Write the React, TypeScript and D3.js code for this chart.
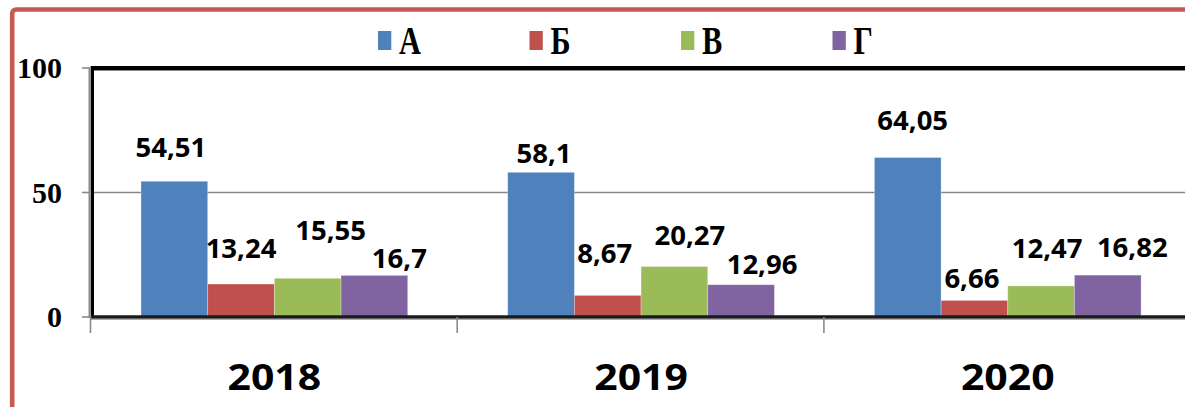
import React from "react";
import * as d3 from "d3";

const years = ["2018", "2019", "2020"];
const series = ["А", "Б", "В", "Г"];
const colors = ["#4F81BD", "#C0504D", "#9BBB59", "#8064A2"];
const valuesA = [54.51, 58.1, 64.05];
const valuesB = [13.24, 8.67, 6.66];
const valuesC = [15.55, 20.27, 12.47];
const valuesD = [16.7, 12.96, 16.82];
const labelsA = ["54,51", "58,1", "64,05"];
const labelsB = ["13,24", "8,67", "6,66"];
const labelsC = ["15,55", "20,27", "12,47"];
const labelsD = ["16,7", "12,96", "16,82"];
const yTicks = [0, 50, 100];

// manual nudges of the data labels (dx from bar centre, height of baseline above bar top)
const labelNudges: [number, number][][] = [
  [[-3.5, 24], [0, 26], [23, 38], [25, 7]],
  [[3, 9], [-3, 32], [15.5, 21.5], [21, 10.7]],
  [[5, 27.5], [-2.5, 12.4], [6, 28], [24.5, 18.4]],
];

export default function App() {
  const W = 1185;
  const H = 407;
  const left = 91;
  const step = 366.7;
  const x0 = d3.scaleBand<string>().domain(years).range([left, left + step * years.length]).padding(0);
  const x1 = d3.scaleBand<string>().domain(series).range([0, x0.bandwidth()]).paddingInner(0).paddingOuter(0.75);
  const y = d3.scaleLinear().domain([0, 100]).range([317, 68]);
  const allValues = [valuesA, valuesB, valuesC, valuesD];
  const allLabels = [labelsA, labelsB, labelsC, labelsD];

  const legendX = d3.scaleLinear().domain([0, 1]).range([378, 378 + 151.5]);

  const frameRight = left + step * years.length;

  return (
    <svg width={W} height={H} style={{ position: "absolute", left: 0, top: 0, background: "#fff" }}>
      <rect x={0} y={0} width={W} height={H} fill="#fff" />
      {/* outer red border */}
      <rect x={12.2} y={9.5} width={W + 40} height={H + 40} rx={4} fill="none" stroke="#C55A55" strokeWidth={4.6} />

      {/* legend */}
      {series.map((s, i) => (
        <g key={s}>
          <rect x={legendX(i)} y={31} width={13.3} height={19} fill={colors[i]} />
          <text
            transform={`translate(${legendX(i) + 21},54) scale(0.76,1)`}
            fontFamily="'Liberation Serif', 'Times New Roman', serif"
            fontWeight="bold"
            fontSize={40}
            fill="#000"
          >
            {s}
          </text>
        </g>
      ))}

      {/* gridline */}
      <line x1={left} x2={frameRight} y1={y(50)} y2={y(50)} stroke="#878787" strokeWidth={1.6} />

      {/* bars */}
      {years.map((yr, yi) =>
        series.map((s, si) => {
          const v = allValues[si][yi];
          const bx = (x0(yr) as number) + (x1(s) as number);
          return (
            <rect
              key={yr + s}
              x={bx}
              y={y(v)}
              width={x1.bandwidth()}
              height={y(0) - y(v)}
              fill={colors[si]}
              stroke="#ffffff"
              strokeOpacity={0.35}
              strokeWidth={0.8}
            />
          );
        })
      )}

      {/* plot frame */}
      <line x1={left} x2={frameRight} y1={68} y2={68} stroke="#000" strokeWidth={4} />
      <line x1={left} x2={frameRight} y1={70.5} y2={70.5} stroke="#888" strokeWidth={1} />
      <line x1={92.3} x2={92.3} y1={66} y2={317} stroke="#000" strokeWidth={3.4} />
      <line x1={89.3} x2={89.3} y1={68} y2={318} stroke="#8a8a8a" strokeWidth={1.6} />
      <line x1={left} x2={frameRight} y1={317} y2={317} stroke="#1a1a1a" strokeWidth={3.5} />
      <line x1={left} x2={frameRight} y1={319.2} y2={319.2} stroke="#888" strokeWidth={1} />

      {/* y ticks */}
      {yTicks.map((t) => (
        <g key={t}>
          <line x1={82} x2={90} y1={y(t)} y2={y(t)} stroke="#8a8a8a" strokeWidth={1.6} />
          <text
            x={62}
            y={y(t) + 10.3}
            textAnchor="end"
            fontFamily="'Liberation Serif', 'Times New Roman', serif"
            fontWeight="bold"
            fontSize={30}
            fill="#000"
          >
            {t}
          </text>
        </g>
      ))}

      {/* x ticks */}
      {years.map((yr) => (
        <line key={yr} x1={(x0(yr) as number) - 0.5} x2={(x0(yr) as number) - 0.5} y1={317} y2={333} stroke="#8a8a8a" strokeWidth={1.6} />
      ))}

      {/* category labels */}
      {years.map((yr) => (
        <text
          key={yr}
          transform={`translate(${(x0(yr) as number) + x0.bandwidth() / 2},390) scale(1.17,1)`}
          textAnchor="middle"
          fontFamily="'Open Sans', sans-serif"
          fontWeight="bold"
          fontSize={35}
          fill="#000"
        >
          {yr}
        </text>
      ))}

      {/* data labels */}
      {years.map((yr, yi) =>
        series.map((s, si) => {
          const v = allValues[si][yi];
          const cx = (x0(yr) as number) + (x1(s) as number) + x1.bandwidth() / 2;
          const [dx, dy] = labelNudges[yi][si];
          return (
            <text
              key={"l" + yr + s}
              x={cx + dx}
              y={y(v) - dy}
              textAnchor="middle"
              fontFamily="'Open Sans', sans-serif"
              fontWeight="bold"
              fontSize={27.5}
              fill="#000"
            >
              {allLabels[si][yi]}
            </text>
          );
        })
      )}
    </svg>
  );
}
